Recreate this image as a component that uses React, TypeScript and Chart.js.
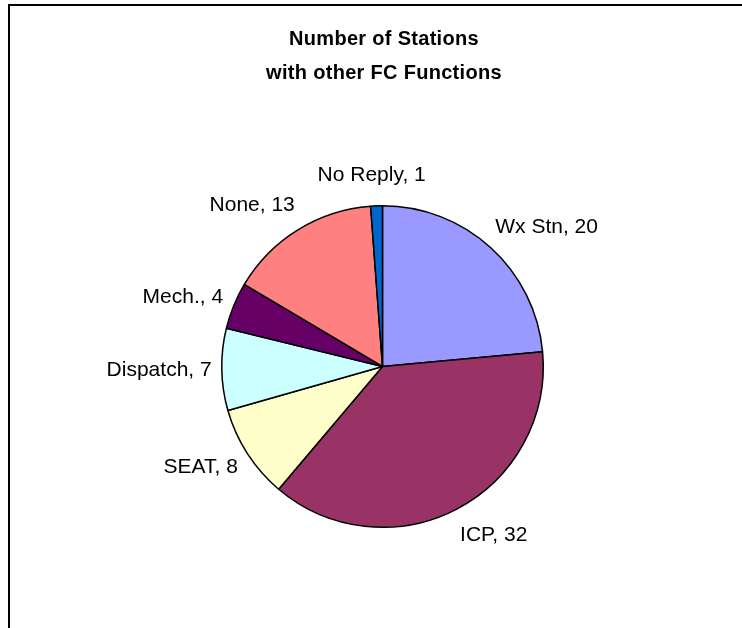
import React, { useEffect, useRef } from "react";
import { Chart, registerables } from "chart.js";

Chart.register(...registerables);

const categories = ["Wx Stn", "ICP", "SEAT", "Dispatch", "Mech.", "None", "No Reply"];
const stationCounts = [20, 32, 8, 7, 4, 13, 1];
const sliceColors = ["#9999FF", "#993366", "#FFFFCC", "#CCFFFF", "#660066", "#FF8080", "#0066CC"];
const titleLines = ["Number of Stations", "with other FC Functions"];

const W = 742;
const H = 628;

const framePlugin = {
  id: "frame",
  beforeDraw(chart: any) {
    const ctx = chart.ctx;
    ctx.save();
    ctx.fillStyle = "#ffffff";
    ctx.fillRect(0, 0, W, H);
    ctx.fillStyle = "#000000";
    ctx.fillRect(8, 4, 2, H - 4);
    ctx.fillRect(8, 4, W - 8, 2);
    ctx.restore();
  },
};

const titlePlugin = {
  id: "excelTitle",
  afterDraw(chart: any) {
    const ctx = chart.ctx;
    const meta = chart.getDatasetMeta(0);
    const arc = meta.data[0];
    const cx = arc ? arc.x + 1.5 : W / 2;
    ctx.save();
    ctx.font = 'bold 20px "Liberation Sans", Arial, sans-serif';
    try {
      (ctx as any).letterSpacing = "0.3px";
    } catch (e) {}
    ctx.fillStyle = "#000000";
    ctx.textAlign = "center";
    ctx.textBaseline = "alphabetic";
    titleLines.forEach((line, i) => {
      ctx.fillText(line, cx, 45 + i * 34);
    });
    ctx.restore();
  },
};

const labelPlugin = {
  id: "outsideLabels",
  afterDatasetsDraw(chart: any) {
    const meta = chart.getDatasetMeta(0);
    const ctx = chart.ctx;
    ctx.save();
    ctx.font = '21px "Liberation Sans", Arial, sans-serif';
    ctx.fillStyle = "#000000";
    ctx.textAlign = "center";
    ctx.textBaseline = "middle";
    meta.data.forEach((arc: any, i: number) => {
      const p = arc.getProps(["x", "y", "startAngle", "endAngle", "outerRadius"], true);
      const mid = (p.startAngle + p.endAngle) / 2;
      const dx = Math.cos(mid);
      const dy = Math.sin(mid);
      const text = `${categories[i]}, ${stationCounts[i]}`;
      const w = ctx.measureText(text).width;
      const R = p.outerRadius + 18;
      const side = Math.max(-1, Math.min(1, dx / 0.4));
      const tx = p.x + dx * R + 0.85 * (w / 2) * side;
      const ty = p.y + dy * R + dy * Math.abs(dy) * 13;
      ctx.fillText(text, tx, ty);
    });
    ctx.restore();
  },
};

export default function App() {
  const canvasRef = useRef<HTMLCanvasElement | null>(null);

  useEffect(() => {
    const canvas = canvasRef.current;
    if (!canvas) return;
    const chart = new Chart(canvas, {
      type: "pie",
      data: {
        labels: categories,
        datasets: [
          {
            data: stationCounts,
            backgroundColor: sliceColors,
            borderColor: "#000000",
            borderWidth: 1.5,
          },
        ],
      },
      options: {
        responsive: false,
        animation: false,
        devicePixelRatio: 1,
        layout: {
          padding: { left: 221, right: 198, top: 205, bottom: 100 },
        },
        plugins: {
          legend: { display: false },
          tooltip: { enabled: false },
          title: { display: false },
        },
      },
      plugins: [framePlugin, labelPlugin, titlePlugin],
    });
    return () => chart.destroy();
  }, []);

  return (
    <div style={{ position: "absolute", left: 0, top: 0, width: W, height: H }}>
      <canvas ref={canvasRef} width={W} height={H} style={{ display: "block", width: W, height: H }} />
    </div>
  );
}
